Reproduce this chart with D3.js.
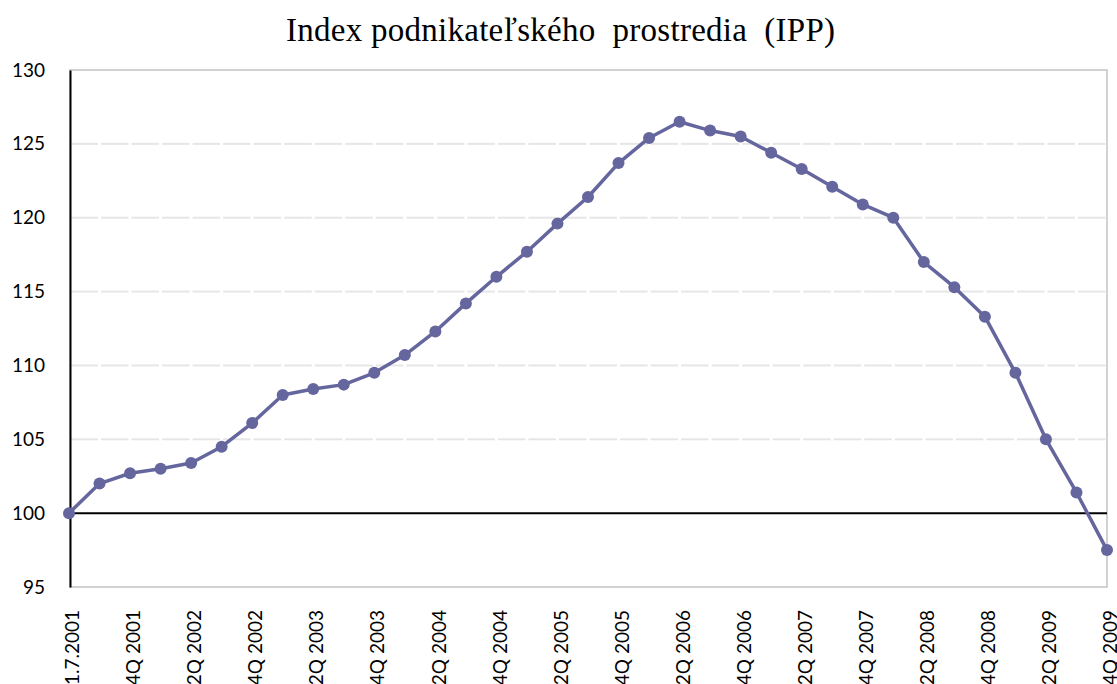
<!DOCTYPE html>
<html>
<head>
<meta charset="utf-8">
<script src="https://cdn.jsdelivr.net/npm/d3@7"></script>
<style>
  body { margin: 0; background: #fff; }
  svg { display: block; }
</style>
</head>
<body>
<div id="chart"></div>
<script>
const title = "Index podnikateľského  prostredia  (IPP)";

const quarters = [
    "1.7.2001", "3Q 2001", "4Q 2001",
    "1Q 2002", "2Q 2002", "3Q 2002", "4Q 2002",
    "1Q 2003", "2Q 2003", "3Q 2003", "4Q 2003",
    "1Q 2004", "2Q 2004", "3Q 2004", "4Q 2004",
    "1Q 2005", "2Q 2005", "3Q 2005", "4Q 2005",
    "1Q 2006", "2Q 2006", "3Q 2006", "4Q 2006",
    "1Q 2007", "2Q 2007", "3Q 2007", "4Q 2007",
    "1Q 2008", "2Q 2008", "3Q 2008", "4Q 2008",
    "1Q 2009", "2Q 2009", "3Q 2009", "4Q 2009"
];

const ippValues = [
    100.0, 102.0, 102.7,
    103.0, 103.4, 104.5, 106.1,
    108.0, 108.4, 108.7, 109.5,
    110.7, 112.3, 114.2, 116.0,
    117.7, 119.6, 121.4, 123.7,
    125.4, 126.5, 125.9, 125.5,
    124.4, 123.3, 122.1, 120.9,
    120.0, 117.0, 115.3, 113.3,
    109.5, 105.0, 101.4, 97.5
];

const yTicks = [95, 100, 105, 110, 115, 120, 125, 130];

function renderChart() {
    const width = 1117, height = 684;
    const left = 70, right = 1107, top = 70, bottom = 587;
    const lineColor = "#65669e";

    const svg = d3.select("#chart").append("svg")
        .attr("width", width).attr("height", height);

    const x = d3.scalePoint().domain(quarters).range([left - 1, right]);
    const y = d3.scaleLinear().domain([95, 130]).range([bottom, top]);

    // title
    svg.append("text")
        .attr("x", 560.5).attr("y", 41)
        .attr("text-anchor", "middle")
        .attr("textLength", 549)
        .attr("lengthAdjust", "spacing")
        .style("font-family", "'Liberation Serif', serif")
        .style("font-size", "33px")
        .style("white-space", "pre")
        .attr("fill", "#000")
        .text(title);

    // gridlines, broken at each category like the original
    const grid = svg.append("g");
    yTicks.filter(t => t > 95 && t < 130 && t !== 100).forEach(t => {
        for (let i = 0; i < quarters.length - 1; i++) {
            grid.append("line")
                .attr("x1", x(quarters[i]) + 1.5).attr("x2", x(quarters[i + 1]) - 1.5)
                .attr("y1", y(t)).attr("y2", y(t))
                .attr("stroke", "#e6e6e6").attr("stroke-width", 2);
        }
    });

    // plot border
    svg.append("rect")
        .attr("x", left).attr("y", y(130))
        .attr("width", right - left).attr("height", y(95) - y(130))
        .attr("fill", "none").attr("stroke", "#c4c4c4").attr("stroke-width", 1.5);

    // 100 baseline
    svg.append("line")
        .attr("x1", left).attr("x2", right)
        .attr("y1", y(100)).attr("y2", y(100))
        .attr("stroke", "#000").attr("stroke-width", 2);

    // y axis
    const yAxis = svg.append("g")
        .attr("transform", `translate(${left},0)`)
        .call(d3.axisLeft(y).tickValues(yTicks).tickSize(0).tickPadding(25));
    yAxis.select(".domain").attr("stroke", "#000").attr("stroke-width", 2);
    yAxis.selectAll("text")
        .style("font-family", "Lato, 'Open Sans', sans-serif")
        .style("font-size", "19px")
        .attr("fill", "#000");

    // x axis labels, every other quarter
    const xAxis = svg.append("g")
        .attr("transform", `translate(0,${bottom})`)
        .call(d3.axisBottom(x)
            .tickValues(quarters.filter((q, i) => i % 2 === 0))
            .tickSize(0));
    xAxis.select(".domain").remove();
    xAxis.selectAll("text")
        .style("font-family", "Lato, 'Open Sans', sans-serif")
        .style("font-size", "19px")
        .attr("fill", "#000")
        .attr("text-anchor", "end")
        .attr("transform", "rotate(-90)")
        .attr("x", -23)
        .attr("y", 3)
        .attr("dy", "0.35em");

    // series
    const line = d3.line()
        .x((d, i) => x(quarters[i]))
        .y(d => y(d));

    svg.append("path")
        .datum(ippValues)
        .attr("d", line)
        .attr("fill", "none")
        .attr("stroke", lineColor)
        .attr("stroke-width", 3.5)
        .attr("stroke-linejoin", "round");

    svg.append("g")
        .selectAll("circle")
        .data(ippValues)
        .enter().append("circle")
        .attr("cx", (d, i) => x(quarters[i]))
        .attr("cy", d => y(d))
        .attr("r", 6)
        .attr("fill", lineColor);
}

renderChart();
</script>
</body>
</html>
